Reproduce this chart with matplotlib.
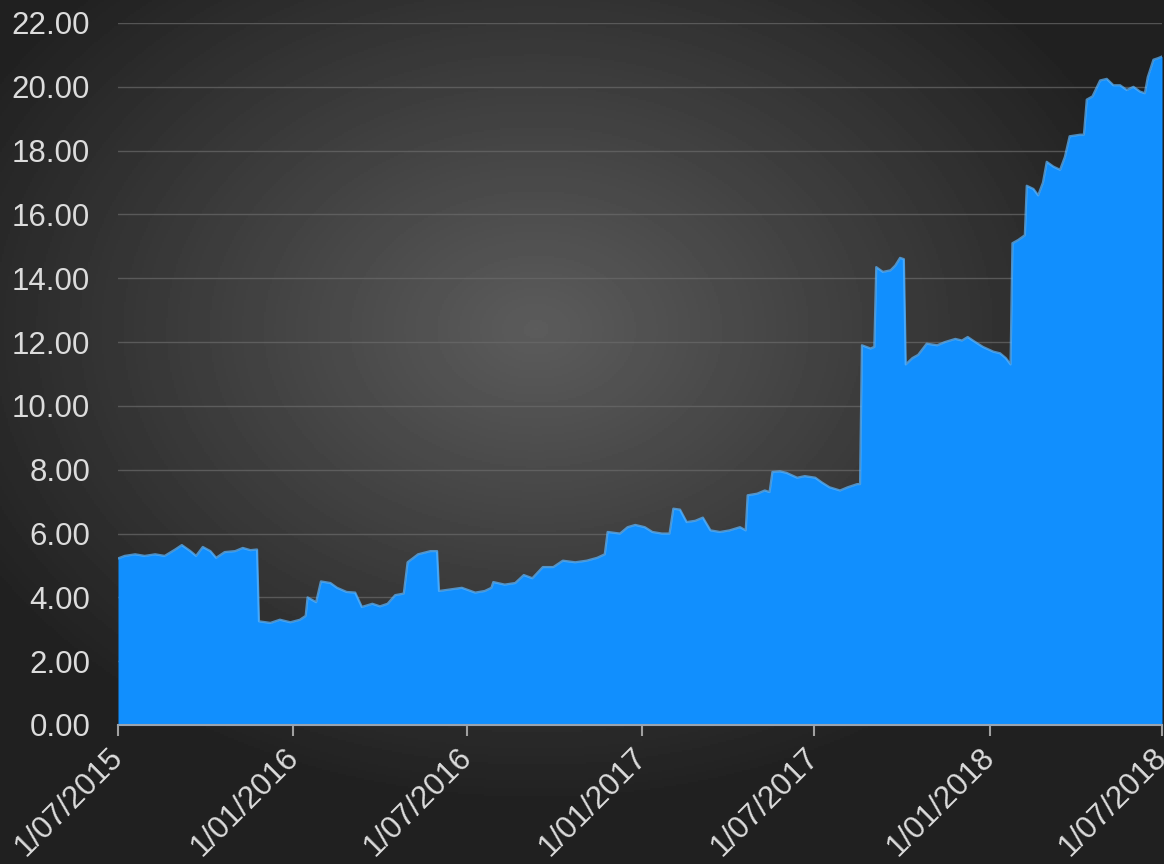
import numpy as np
import pandas as pd
import matplotlib
matplotlib.use("Agg")
import matplotlib.pyplot as plt
from matplotlib.transforms import ScaledTranslation

# price series (date, value)
dates = [
    "2015-07-01", "2015-07-08", "2015-07-19", "2015-07-29", "2015-08-09", "2015-08-19",
    "2015-08-30", "2015-09-06", "2015-09-15", "2015-09-21", "2015-09-28", "2015-10-06",
    "2015-10-12", "2015-10-21", "2015-11-01", "2015-11-09", "2015-11-17", "2015-11-24",
    "2015-11-26", "2015-12-08", "2015-12-18", "2015-12-29", "2016-01-08", "2016-01-14",
    "2016-01-16", "2016-01-25", "2016-01-30", "2016-02-09", "2016-02-16", "2016-02-26",
    "2016-03-06", "2016-03-13", "2016-03-24", "2016-04-01", "2016-04-09", "2016-04-17",
    "2016-04-26", "2016-04-30", "2016-05-11", "2016-05-24", "2016-05-31", "2016-06-02",
    "2016-06-14", "2016-06-26", "2016-07-10", "2016-07-20", "2016-07-27", "2016-07-29",
    "2016-08-10", "2016-08-21", "2016-08-30", "2016-09-08", "2016-09-19", "2016-09-30",
    "2016-10-10", "2016-10-23", "2016-11-04", "2016-11-15", "2016-11-23", "2016-11-26",
    "2016-12-09", "2016-12-17", "2016-12-25", "2017-01-04", "2017-01-12", "2017-01-22",
    "2017-01-30", "2017-02-03", "2017-02-10", "2017-02-17", "2017-02-26", "2017-03-06",
    "2017-03-14", "2017-03-24", "2017-04-03", "2017-04-14", "2017-04-20", "2017-04-22",
    "2017-05-02", "2017-05-10", "2017-05-15", "2017-05-18", "2017-05-26", "2017-06-02",
    "2017-06-13", "2017-06-21", "2017-07-02", "2017-07-09", "2017-07-17", "2017-07-28",
    "2017-08-05", "2017-08-15", "2017-08-18", "2017-08-20", "2017-08-29", "2017-09-02",
    "2017-09-04", "2017-09-11", "2017-09-19", "2017-09-24", "2017-09-29", "2017-10-03",
    "2017-10-05", "2017-10-12", "2017-10-18", "2017-10-27", "2017-11-07", "2017-11-15",
    "2017-11-26", "2017-12-03", "2017-12-09", "2017-12-17", "2017-12-25", "2018-01-05",
    "2018-01-12", "2018-01-18", "2018-01-23", "2018-01-25", "2018-01-31", "2018-02-07",
    "2018-02-09", "2018-02-16", "2018-02-21", "2018-02-26", "2018-03-02", "2018-03-09",
    "2018-03-16", "2018-03-21", "2018-03-26", "2018-04-06", "2018-04-10", "2018-04-13",
    "2018-04-19", "2018-04-27", "2018-05-04", "2018-05-11", "2018-05-18", "2018-05-25",
    "2018-06-01", "2018-06-08", "2018-06-13", "2018-06-16", "2018-06-22", "2018-06-27",
    "2018-07-01",
]
values = [
    5.22, 5.30, 5.35, 5.30, 5.35, 5.30,
    5.50, 5.64, 5.45, 5.30, 5.58, 5.45,
    5.24, 5.42, 5.45, 5.55, 5.48, 5.50,
    3.25, 3.20, 3.30, 3.22, 3.30, 3.42,
    4.00, 3.85, 4.50, 4.45, 4.30, 4.17,
    4.15, 3.70, 3.80, 3.72, 3.80, 4.07,
    4.12, 5.10, 5.35, 5.45, 5.45, 4.20,
    4.25, 4.30, 4.15, 4.20, 4.30, 4.48,
    4.40, 4.45, 4.70, 4.60, 4.95, 4.95,
    5.15, 5.10, 5.15, 5.24, 5.35, 6.05,
    6.00, 6.20, 6.27, 6.20, 6.05, 6.00,
    6.00, 6.78, 6.75, 6.36, 6.40, 6.50,
    6.10, 6.05, 6.10, 6.20, 6.10, 7.20,
    7.25, 7.35, 7.30, 7.93, 7.95, 7.90,
    7.75, 7.80, 7.75, 7.60, 7.45, 7.35,
    7.45, 7.55, 7.55, 11.90, 11.80, 11.85,
    14.35, 14.20, 14.25, 14.40, 14.64, 14.60,
    11.30, 11.50, 11.60, 11.95, 11.90, 12.00,
    12.10, 12.05, 12.16, 12.00, 11.85, 11.70,
    11.65, 11.50, 11.30, 15.10, 15.20, 15.35,
    16.90, 16.80, 16.60, 17.00, 17.65, 17.50,
    17.40, 17.80, 18.45, 18.50, 18.50, 19.60,
    19.70, 20.20, 20.25, 20.05, 20.05, 19.90,
    20.00, 19.85, 19.80, 20.30, 20.85, 20.90,
    20.95,
]
tick_dates = ["2015-07-01", "2016-01-01", "2016-07-01", "2017-01-01",
              "2017-07-01", "2018-01-01", "2018-07-01"]
y_ticks = [0, 2, 4, 6, 8, 10, 12, 14, 16, 18, 20, 22]

FILL = "#118ffe"
EDGE = "#5cb6ff"
TEXT = "#dcdcdc"
FONT = ["Liberation Sans", "DejaVu Sans"]

x = pd.to_datetime(dates)
ticks = pd.to_datetime(tick_dates)

fig = plt.figure(figsize=(11.64, 8.64), dpi=100)

# radial dark background
bg = fig.add_axes([0, 0, 1, 1])
h, w = 432, 582
yy, xx = np.mgrid[0:h, 0:w]
r = np.hypot((xx - w * 0.46) / w, (yy - h * 0.38) / h)
shade = np.clip(0.36 - 0.42 * r, 0.13, 0.36)
bg.imshow(shade, cmap="gray", vmin=0, vmax=1, aspect="auto", extent=[0, 1, 0, 1])
bg.axis("off")

ax = fig.add_axes([118 / 1164, 1 - 725 / 864, (1162 - 118) / 1164, (725 - 23) / 864])
ax.patch.set_alpha(0)
ax.fill_between(x, values, 0, color=FILL, linewidth=0, zorder=2)
ax.plot(x, values, color=EDGE, linewidth=1.6, alpha=0.7, zorder=3)

ax.set_xlim(ticks[0], ticks[-1])
ax.set_ylim(0, 22)
ax.set_yticks(y_ticks)
ax.set_yticklabels([f"{v:.2f}" for v in y_ticks])
ax.set_xticks(ticks)
ax.set_xticklabels([d.strftime("%-d/%m/%Y") for d in ticks])
ax.grid(axis="y", color="#6a6a6a", linewidth=1, alpha=0.7, zorder=1)

for s in ["top", "right", "left"]:
    ax.spines[s].set_visible(False)
ax.spines["bottom"].set_color("#9aa4b0")
ax.spines["bottom"].set_linewidth(1.5)
ax.spines["bottom"].set_zorder(4)

ax.tick_params(axis="y", length=0, pad=20, labelcolor=TEXT, labelsize=22.5)
ax.tick_params(axis="x", length=8, width=1.5, color="#a0a0a0", pad=6,
               labelcolor=TEXT, labelsize=22.5)
shift = ScaledTranslation(-10 / 100, 2 / 100, fig.dpi_scale_trans)
for lbl in ax.get_xticklabels():
    lbl.set_rotation(45)
    lbl.set_ha("right")
    lbl.set_rotation_mode("anchor")
    lbl.set_fontfamily(FONT)
    lbl.set_transform(lbl.get_transform() + shift)
for lbl in ax.get_yticklabels():
    lbl.set_fontfamily(FONT)

fig.savefig("out.png", dpi=100)
